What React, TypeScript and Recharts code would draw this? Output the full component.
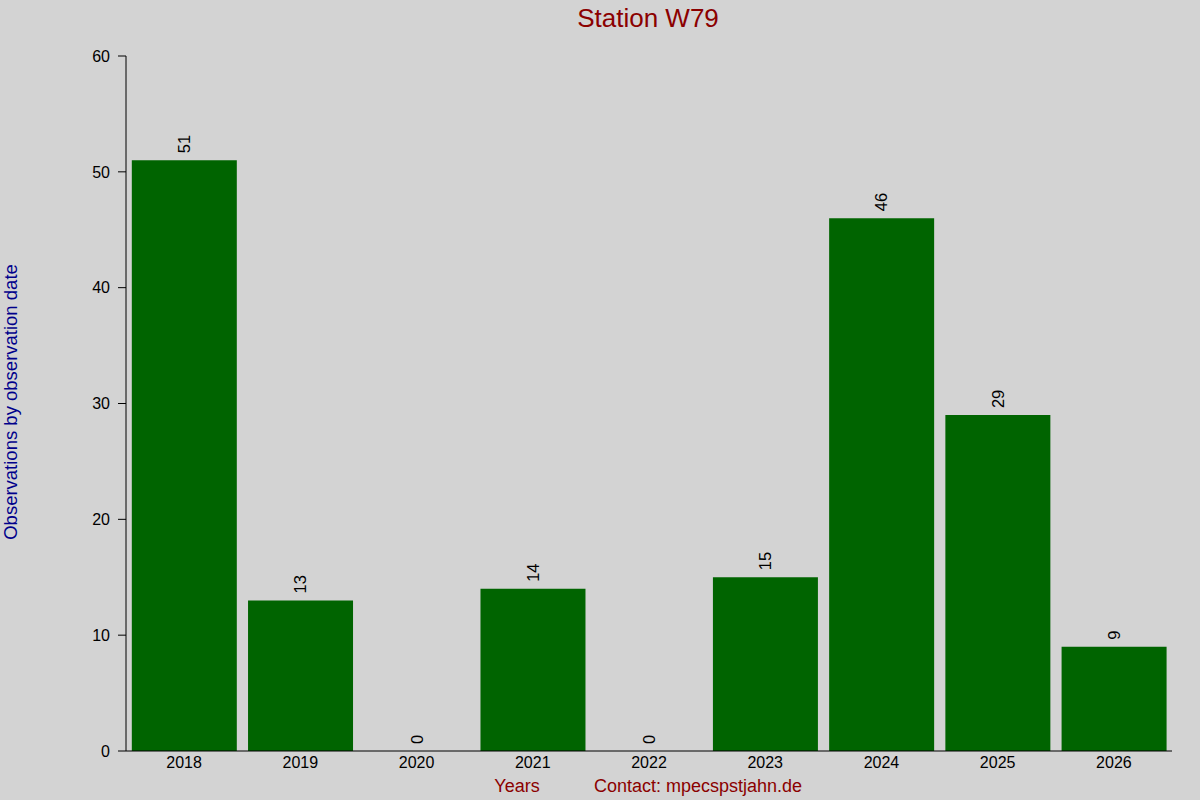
import { ComposedChart, Bar, Line, XAxis, YAxis, LabelList } from 'recharts';

const years = ['2018', '2019', '2020', '2021', '2022', '2023', '2024', '2025', '2026'];
const observations = [51, 13, 0, 14, 0, 15, 46, 29, 9];
const yTicks = [0, 10, 20, 30, 40, 50, 60];

const data = years.map((year, i) => ({ year, count: observations[i] }));

const FONT = '"Liberation Sans", Arial, sans-serif';

// rotated value label sitting above each bar (anchored on an invisible line point)
const RotatedLabel = (props: any) => {
  const { x, y, value } = props;
  const ty = y - 7;
  return (
    <text
      x={x}
      y={ty}
      transform={`rotate(-90, ${x}, ${ty})`}
      textAnchor="start"
      dominantBaseline="central"
      fontSize={16.5}
      fontFamily={FONT}
      fill="#000"
    >
      {value}
    </text>
  );
};

// tiny dot marking each category at the top of the plot
const TopDot = (props: any) => (
  <rect x={props.x - 0.5} y={props.y - 1} width={1.5} height={1.5} fill="#000" />
);

export default function App() {
  return (
    <div
      style={{
        position: 'absolute',
        left: 0,
        top: 0,
        width: 1200,
        height: 800,
        background: '#d3d3d3',
        fontFamily: FONT,
      }}
    >
      <svg width={1200} height={800} style={{ position: 'absolute', left: 0, top: 0 }}>
        <text x={648} y={27} textAnchor="middle" fontSize={26} fill="#8b0000" fontFamily={FONT}>
          Station W79
        </text>
        <text
          x={17}
          y={402}
          transform="rotate(-90, 17, 402)"
          textAnchor="middle"
          fontSize={18.5}
          fill="#00008b"
          fontFamily={FONT}
        >
          Observations by observation date
        </text>
        <text x={517} y={792} textAnchor="middle" fontSize={18} fill="#8b0000" fontFamily={FONT}>
          Years
        </text>
        <text x={698} y={792} textAnchor="middle" fontSize={18} fill="#8b0000" fontFamily={FONT}>
          Contact: mpecspstjahn.de
        </text>
      </svg>
      <div style={{ position: 'absolute', left: 0, top: 0 }}>
        <ComposedChart
          width={1200}
          height={800}
          data={data}
          margin={{ top: 56, right: 28, bottom: 0, left: 0 }}
          barCategoryGap="5%"
        >
          <XAxis
            xAxisId="top"
            orientation="top"
            dataKey="year"
            height={0}
            axisLine={false}
            tickLine={false}
            tickSize={0}
            tickMargin={0}
            tick={TopDot}
          />
          <XAxis
            dataKey="year"
            height={49}
            axisLine={{ stroke: '#000' }}
            tickLine={false}
            tickSize={5}
            tickMargin={1}
            tick={{ fontSize: 16, fill: '#000', fontFamily: FONT }}
          />
          <YAxis
            width={126}
            domain={[0, 60]}
            ticks={yTicks}
            axisLine={{ stroke: '#000' }}
            tickLine={{ stroke: '#000' }}
            tickSize={8}
            tickMargin={8}
            tick={{ fontSize: 16, fill: '#000', fontFamily: FONT }}
          />
          <Bar dataKey="count" fill="#006400" isAnimationActive={false} />
          <Line
            dataKey="count"
            stroke="none"
            dot={false}
            activeDot={false}
            isAnimationActive={false}
          >
            <LabelList dataKey="count" content={RotatedLabel} />
          </Line>
        </ComposedChart>
      </div>
    </div>
  );
}
